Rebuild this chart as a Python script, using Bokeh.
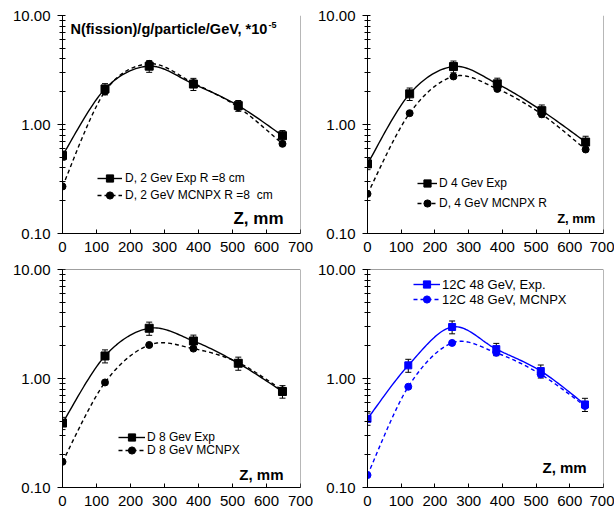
import numpy as np
from bokeh.plotting import figure
from bokeh.layouts import gridplot
from bokeh.models import (Range1d, FixedTicker, PrintfTickFormatter, Whisker, TeeHead,
                          ColumnDataSource, Legend, LegendItem, Span, Label)
from bokeh.embed import file_html
from bokeh.resources import INLINE

# ---------------- data ----------------
Z_D = [0, 125, 255, 385, 517, 647]
Z_C = [0, 121, 251, 382, 514, 645]

D2_EXP = [0.52, 2.12, 3.43, 2.35, 1.49, 0.79]
D2_EXP_ERR = [0.05, 0.25, 0.42, 0.30, 0.17, 0.09]
D2_MC = [0.27, 2.01, 3.60, 2.40, 1.44, 0.665]

D4_EXP = [0.435, 1.91, 3.40, 2.36, 1.34, 0.69]
D4_EXP_ERR = [0.05, 0.25, 0.42, 0.30, 0.17, 0.09]
D4_MC = [0.231, 1.27, 2.76, 2.12, 1.24, 0.59]

D8_EXP = [0.39, 1.61, 2.89, 2.21, 1.38, 0.76]
D8_EXP_ERR = [0.05, 0.22, 0.40, 0.29, 0.19, 0.10]
D8_MC = [0.172, 0.92, 2.03, 1.88, 1.40, 0.78]

C48_EXP = [0.427, 1.32, 2.97, 1.86, 1.17, 0.578]
C48_EXP_ERR = [0.055, 0.18, 0.40, 0.24, 0.16, 0.08]
C48_MC = [0.13, 0.84, 2.12, 1.72, 1.09, 0.56]

X_TICKS = [0, 100, 200, 300, 400, 500, 600, 700]
Y_TICKS = [0.1, 1, 10]
Y_MINOR = [0.2, 0.3, 0.4, 0.5, 0.6, 0.7, 0.8, 0.9, 2, 3, 4, 5, 6, 7, 8, 9]

FONT = "Liberation Sans"


def smooth(xs, ys, n=24):
    """Excel-like smoothed line (Catmull-Rom Bezier in x / log10(y) space)."""
    x = np.asarray(xs, float)
    ly = np.log10(np.asarray(ys, float))
    N = len(x)
    px, py = [], []
    t = np.linspace(0, 1, n)
    for i in range(N - 1):
        x0, y0 = x[i], ly[i]
        x3, y3 = x[i + 1], ly[i + 1]
        xm, ym = (x[i - 1], ly[i - 1]) if i > 0 else (x0, y0)
        xp, yp = (x[i + 2], ly[i + 2]) if i + 2 < N else (x3, y3)
        x1, y1 = x0 + (x3 - xm) / 6, y0 + (y3 - ym) / 6
        x2, y2 = x3 - (xp - x0) / 6, y3 - (yp - y0) / 6
        bx = (1 - t) ** 3 * x0 + 3 * (1 - t) ** 2 * t * x1 + 3 * (1 - t) * t ** 2 * x2 + t ** 3 * x3
        by = (1 - t) ** 3 * y0 + 3 * (1 - t) ** 2 * t * y1 + 3 * (1 - t) * t ** 2 * y2 + t ** 3 * y3
        if i > 0:
            bx, by = bx[1:], by[1:]
        px.extend(bx)
        py.extend(by)
    return px, list(10 ** np.array(py))


def one_legend(label, renderers, x, yc, font, glyph_w, standoff, h=18):
    return Legend(items=[LegendItem(label=label, renderers=renderers)],
                  location=(x, yc - h / 2), padding=0, spacing=0, margin=0,
                  border_line_alpha=0, background_fill_alpha=0,
                  label_text_font=FONT, label_text_font_size=font,
                  label_height=h, glyph_height=h, glyph_width=glyph_w,
                  label_standoff=standoff, label_text_color="black")


def make_panel(z, exp, err, mc, exp_label, mc_label, color, w, h, bl, br, bt, bb,
               leg_x, leg_rows, leg_font, glyph_w, standoff, zlab, top_border, sq, ci):
    p = figure(width=w, height=h, y_axis_type="log",
               x_range=Range1d(0, 700), y_range=Range1d(0.1, 10),
               output_backend="svg", toolbar_location=None,
               min_border_left=bl, min_border_right=br, min_border_top=bt, min_border_bottom=bb)
    p.outline_line_color = None
    p.xgrid.visible = False
    p.ygrid.visible = False
    p.background_fill_color = "white"

    xa = p.xaxis[0]
    xa.ticker = FixedTicker(ticks=X_TICKS)
    xa.major_tick_in = 4
    xa.major_tick_out = 0
    xa.major_label_standoff = 8
    ya = p.yaxis[0]
    ya.ticker = FixedTicker(ticks=Y_TICKS, minor_ticks=Y_MINOR)
    ya.formatter = PrintfTickFormatter(format="%.2f")
    ya.major_tick_in = 3
    ya.major_tick_out = 5
    ya.minor_tick_in = 3
    ya.minor_tick_out = 3
    ya.major_label_standoff = 7
    for ax in (xa, ya):
        ax.axis_line_color = "black"
        ax.major_tick_line_color = "black"
        ax.minor_tick_line_color = "black" if ax is ya else None
        ax.major_label_text_font = FONT
        ax.major_label_text_font_size = "15px"
        ax.major_label_text_color = "black"

    p.add_layout(Span(location=700, dimension="height", line_color="#707070", line_width=1))
    if top_border:
        p.add_layout(Span(location=10, dimension="width", line_color="#404040", line_width=1))

    sx, sy = smooth(z, exp)
    mx, my = smooth(z, mc)
    l_exp = p.line(sx, sy, line_color=color, line_width=1.4)
    l_mc = p.line(mx, my, line_color=color, line_width=1.4, line_dash="4 3")

    src = ColumnDataSource(dict(x=z, y=exp,
                                lo=[v - e for v, e in zip(exp, err)],
                                hi=[v + e for v, e in zip(exp, err)]))
    wh = Whisker(source=src, base="x", lower="lo", upper="hi", line_color="black", line_width=1,
                 upper_head=TeeHead(size=6, line_color="black", line_width=1),
                 lower_head=TeeHead(size=6, line_color="black", line_width=1))
    p.add_layout(wh)

    m_mc = p.scatter(z, mc, marker="circle", size=ci, fill_color=color, line_color=color)
    m_exp = p.scatter(z, exp, marker="square", size=sq, fill_color=color, line_color=color)

    p.add_layout(one_legend(exp_label, [l_exp, m_exp], leg_x, leg_rows[0], leg_font, glyph_w, standoff))
    p.add_layout(one_legend(mc_label, [l_mc, m_mc], leg_x, leg_rows[1], leg_font, glyph_w, standoff))

    zx, zy, zsize = zlab
    p.add_layout(Label(x=zx, y=zy, text="Z, mm", text_align="right", text_baseline="middle",
                       text_font=FONT, text_font_style="bold", text_font_size=zsize,
                       text_color="black"))
    return p


p1 = make_panel(Z_D, D2_EXP, D2_EXP_ERR, D2_MC, "D, 2 Gev Exp R =8 cm", "D, 2 GeV MCNPX R =8  cm",
                "black", 313, 258, 62, 13, 15, 25, 35, (55, 38), "12px", 25, 3,
                (650, 0.138, "17px"), False, 8, 7)
p1.add_layout(Label(x=23.5, y=7.45, text="N(fission)/g/particle/GeV, *10", text_baseline="middle",
                    text_font=FONT, text_font_style="bold", text_font_size="14.5px", text_color="black"))
p1.add_layout(Label(x=606, y=8.1, text="-5", text_baseline="middle",
                    text_font=FONT, text_font_style="bold", text_font_size="9px", text_color="black"))

p2 = make_panel(Z_D, D4_EXP, D4_EXP_ERR, D4_MC, "D 4 Gev Exp", "D, 4 GeV MCNPX R",
                "black", 301, 258, 54, 11, 15, 25, 50, (50, 30), "12px", 20, 2,
                (676, 0.138, "13px"), False, 8, 7)

p3 = make_panel(Z_D, D8_EXP, D8_EXP_ERR, D8_MC, "D 8 Gev Exp", "D 8 GeV MCNPX",
                "black", 313, 258, 62, 13, 11, 28, 56, (50, 37), "12px", 27, 2,
                (650, 0.132, "15px"), True, 8, 7)

p4 = make_panel(Z_C, C48_EXP, C48_EXP_ERR, C48_MC, "12C 48 GeV, Exp.", "12C 48 GeV, MCNPX",
                "#0000ff", 301, 258, 54, 11, 10, 29, 46, (203, 188), "13px", 27, 2,
                (650, 0.152, "15px"), True, 7, 7)

grid = gridplot([[p1, p2], [p3, p4]], toolbar_location=None)

open("out.html", "w").write(file_html(grid, INLINE))
